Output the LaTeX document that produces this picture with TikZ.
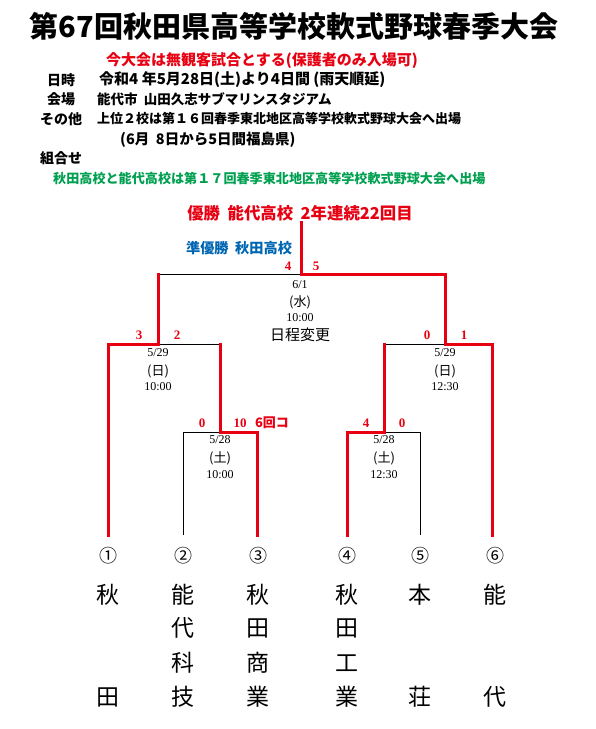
\documentclass[tikz,border=0pt]{standalone}
\usepackage{fontspec}
\setmainfont{Liberation Serif}
\newfontfamily\jp{Noto Sans CJK JP}
\definecolor{hred}{RGB}{230,0,18}
\definecolor{hgreen}{RGB}{0,160,80}
\definecolor{hblue}{RGB}{0,102,178}
\tikzset{
  redln/.style={draw=hred,line width=3pt,line join=miter,line cap=rect},
  blkln/.style={draw=black,line width=0.9pt},
  hdr/.style={inner sep=0pt,font=\jp\bfseries\fontsize{14}{14}\selectfont,anchor=west},
  scorelbl/.style={inner sep=0pt,text=hred,font=\bfseries\fontsize{13}{13}\selectfont},
  datelbl/.style={inner sep=0pt,font=\fontsize{12}{12}\selectfont},
  daylbl/.style={inner sep=0pt,font=\jp\fontsize{13}{13}\selectfont},
  numlbl/.style={inner sep=0pt,font=\jp\fontsize{18}{18}\selectfont},
  schl/.style={inner sep=0pt,font=\jp\fontsize{23}{23}\selectfont}
}
\begin{document}
\begin{tikzpicture}[x=1pt,y=-1pt]
\useasboundingbox (0,0) rectangle (596,729);
% header
\node[inner sep=0pt,font=\jp\bfseries\fontsize{29}{29}\selectfont] (title) at (294,26) {第67回秋田県高等学校軟式野球春季大会};
\node[inner sep=0pt,text=hred,font=\jp\bfseries\fontsize{15}{15}\selectfont] (notice) at (262,61) {今大会は無観客試合とする(保護者のみ入場可)};
\node[hdr] (h1) at (47,80) {日時};
\node[hdr,font=\jp\bfseries\fontsize{15}{15}\selectfont] (h1v) at (99,80) {令和4\ 年5月28日(土)より4日間\ (雨天順延)};
\node[hdr] (h2) at (47,99) {会場};
\node[hdr,font=\jp\bfseries\fontsize{13.5}{13.5}\selectfont] (h2v) at (97,99) {能代市\ \ 山田久志サブマリンスタジアム};
\node[hdr] (h3) at (40,119) {その他};
\node[hdr,font=\jp\bfseries\fontsize{13}{13}\selectfont] (h3v) at (97,119) {上位２校は第１６回春季東北地区高等学校軟式野球大会へ出場};
\node[hdr,font=\jp\bfseries\fontsize{14.5}{14.5}\selectfont] (h3w) at (120,140) {(6月\ \ 8日から5日間福島県)};
\node[hdr] (h4) at (40,158) {組合せ};
\node[hdr,text=hgreen,font=\jp\bfseries\fontsize{13.1}{13.1}\selectfont] (green) at (53,178) {秋田高校と能代高校は第１７回春季東北地区高等学校軟式野球大会へ出場};
\node[inner sep=0pt,text=hred,font=\jp\bfseries\fontsize{16.4}{16.4}\selectfont] (champ) at (300,213) {優勝\ \ 能代高校\ \ 2年連続22回目};
\node[inner sep=0pt,text=hblue,font=\jp\bfseries\fontsize{14.2}{14.2}\selectfont] (runner) at (239,248) {準優勝\ \ 秋田高校};
% bracket coordinates
\coordinate (topc) at (301,222);
\coordinate (F) at (301,274);
\coordinate (FL) at (158,274);
\coordinate (FR) at (445,274);
\coordinate (SLL) at (108,344);
\coordinate (SL) at (158,344);
\coordinate (SLR) at (220,344);
\coordinate (SRL) at (384,344);
\coordinate (SR) at (445,344);
\coordinate (SRR) at (492,344);
\coordinate (QLL) at (183,432);
\coordinate (QL) at (220,432);
\coordinate (QLR) at (257,432);
\coordinate (QRL) at (347,432);
\coordinate (QR) at (384,432);
\coordinate (QRR) at (420,432);
\coordinate (b1) at (108,535);
\coordinate (b2) at (183,535);
\coordinate (b3) at (257,535);
\coordinate (b4) at (347,535);
\coordinate (b5) at (420,535);
\coordinate (b6) at (492,535);
% black lines
\draw[blkln] (F) -- (FL);
\draw[blkln] (SL) -- (SLR);
\draw[blkln] (b2) -- (QLL) -- (QL);
\draw[blkln] (SRL) -- (SR);
\draw[blkln] (QR) -- (QRR) -- (b5);
% red lines
\draw[redln] (topc) -- (F) -- (FR) -- (SR) -- (SRR) -- (b6);
\draw[redln] (b1) -- (SLL) -- (SL) -- (FL);
\draw[redln] (SLR) -- (QL) -- (QLR) -- (b3);
\draw[redln] (b4) -- (QRL) -- (QR) -- (SRL);
% scores
\node[scorelbl] (s4) at (288,266) {4};
\node[scorelbl] (s5) at (316,266) {5};
\node[scorelbl] (s3) at (139,335) {3};
\node[scorelbl] (s2) at (177,335) {2};
\node[scorelbl] (s0a) at (427,335) {0};
\node[scorelbl] (s1) at (464,335) {1};
\node[scorelbl] (s0b) at (202,423) {0};
\node[scorelbl] (s10) at (240,423) {10};
\node[scorelbl,font=\jp\bfseries\fontsize{13}{13}\selectfont] (called) at (272,423) {6回コ};
\node[scorelbl] (s4b) at (366,423) {4};
\node[scorelbl] (s0c) at (402,423) {0};
% dates
\node[datelbl] (d1a) at (300,285) {6/1};
\node[daylbl] (d1b) at (300,302) {(水)};
\node[datelbl] (d1c) at (300,318) {10:00};
\node[inner sep=0pt,font=\jp\fontsize{15}{15}\selectfont] (d1d) at (300,335) {日程変更};
\node[datelbl] (d2a) at (158,353) {5/29};
\node[daylbl] (d2b) at (158,371) {(日)};
\node[datelbl] (d2c) at (158,387) {10:00};
\node[datelbl] (d3a) at (445,353) {5/29};
\node[daylbl] (d3b) at (445,371) {(日)};
\node[datelbl] (d3c) at (445,387) {12:30};
\node[datelbl] (d4a) at (220,440) {5/28};
\node[daylbl] (d4b) at (220,458) {(土)};
\node[datelbl] (d4c) at (220,475) {10:00};
\node[datelbl] (d5a) at (384,440) {5/28};
\node[daylbl] (d5b) at (384,458) {(土)};
\node[datelbl] (d5c) at (384,475) {12:30};
% entrants
\node[numlbl] (n1) at (108,556) {①};
\node[numlbl] (n2) at (183,556) {②};
\node[numlbl] (n3) at (258,556) {③};
\node[numlbl] (n4) at (347,556) {④};
\node[numlbl] (n5) at (420,556) {⑤};
\node[numlbl] (n6) at (495,556) {⑥};
\node[schl] (t1a) at (108,595) {秋};
\node[schl] (t1d) at (108,697) {田};
\node[schl] (t2a) at (183,595) {能};
\node[schl] (t2b) at (183,628) {代};
\node[schl] (t2c) at (183,663) {科};
\node[schl] (t2d) at (183,697) {技};
\node[schl] (t3a) at (258,595) {秋};
\node[schl] (t3b) at (258,628) {田};
\node[schl] (t3c) at (258,663) {商};
\node[schl] (t3d) at (258,697) {業};
\node[schl] (t4a) at (347,595) {秋};
\node[schl] (t4b) at (347,628) {田};
\node[schl] (t4c) at (347,663) {工};
\node[schl] (t4d) at (347,697) {業};
\node[schl] (t5a) at (420,595) {本};
\node[schl] (t5d) at (420,697) {荘};
\node[schl] (t6a) at (495,595) {能};
\node[schl] (t6d) at (495,697) {代};
\end{tikzpicture}
\end{document}
